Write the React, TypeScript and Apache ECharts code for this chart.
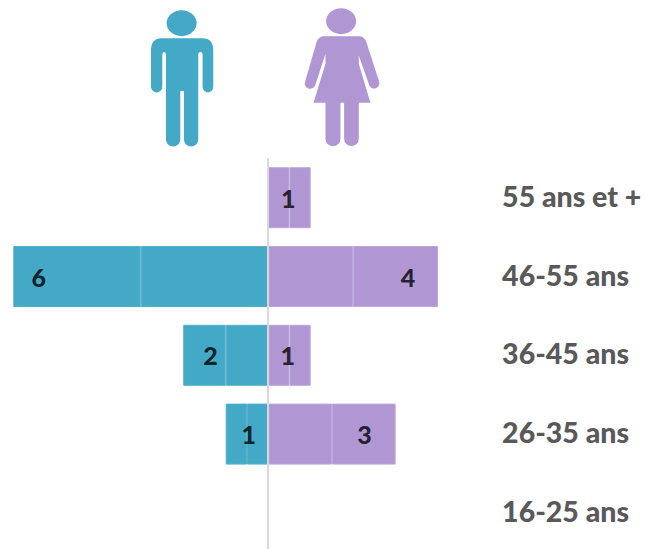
import React, { useEffect, useRef } from "react";
import * as echarts from "echarts";

const categories = ["16-25 ans", "26-35 ans", "36-45 ans", "46-55 ans", "55 ans et +"];
const menInner = [0, -0.5, -1, -3, 0];
const menOuter = [0, -0.5, -1, -3, 0];
const womenInner = [0, 1.5, 0.5, 2, 0.5];
const womenOuter = [0, 1.5, 0.5, 2, 0.5];
const menTotals = [0, 1, 2, 6, 0];
const womenTotals = [0, 3, 1, 4, 1];
const menLabelAt = [0, -0.46, -1.36, -5.4, 0];
const womenLabelAt = [0, 2.27, 0.46, 3.29, 0.47];

const TEAL = "#44A9C7";
const PURPLE = "#B097D4";
const TEAL_SEAM = "#52AFCB";
const PURPLE_SEAM = "#BBA7DB";
const TEXT = "#595959";
const FONT = "Lato, sans-serif";

const manPath =
  "M95 113H218Q250 113 250 150V258A16 18 0 0 1 218 258V163Q218 155 212 155Q205 155 205 163V420A22 23 0 0 1 162 420V272H151V420A22 23 0 0 1 108 420V163Q108 155 102 155Q97 155 97 163V258A17 18 0 0 1 63 258V150Q63 113 95 113ZM110 68A45 39 0 1 1 200 68A45 39 0 1 1 110 68Z";
const womanPath =
  "M582 107H688Q703 107 710 125L748 243A16 16 0 0 1 719 256L687 165V190L722 307H687V415A22 22 0 0 1 643 415V307H632V415A22 22 0 0 1 587 415V307H551L587 190V160L556 255A16 16 0 0 1 526 243L560 125Q567 107 582 107ZM589 62A45 39 0 1 1 679 62A45 39 0 1 1 589 62Z";

echarts.graphic.registerShape("manIcon", echarts.graphic.extendPath(manPath, {}) as any);
echarts.graphic.registerShape("womanIcon", echarts.graphic.extendPath(womanPath, {}) as any);

const segment = (name: string, data: number[], color: string, seam: string) => ({
  name,
  type: "bar",
  stack: "total",
  barWidth: 61,
  data,
  silent: true,
  itemStyle: { color, borderColor: seam, borderWidth: 1 },
});

const labelLayer = (at: number[], totals: number[]) => ({
  type: "scatter",
  symbolSize: 0,
  silent: true,
  z: 5,
  data: at
    .map((x, i) => ({ value: [x, categories[i]], total: totals[i] }))
    .filter((d) => d.total > 0),
  label: {
    show: true,
    position: "inside",
    formatter: (p: any) => String(p.data.total),
    color: "#000",
    fontFamily: FONT,
    fontWeight: 900,
    fontSize: 25,
  },
});

export default function App() {
  const ref = useRef<HTMLDivElement>(null);
  useEffect(() => {
    const chart = echarts.init(ref.current!, undefined, { renderer: "svg" });
    chart.setOption({
      animation: false,
      backgroundColor: "#fff",
      grid: { left: 13.3, top: 158.3, width: 467.3, height: 394, containLabel: false, outerBoundsMode: "none" },
      xAxis: { type: "value", min: -6, max: 5, show: false },
      yAxis: {
        type: "category",
        data: categories,
        position: "right",
        axisLine: { show: false },
        axisTick: { show: false },
        axisLabel: {
          align: "left",
          margin: 21.5,
          formatter: (v: string) => `{t|${v}}`,
          rich: {
            t: {
              padding: [0, 0, 4, 0],
              color: TEXT,
              fontFamily: FONT,
              fontWeight: 900,
              fontSize: 28.5,
            },
          },
        },
      },
      graphic: [
        { type: "manIcon", x: 130, y: 0.5, scaleX: 1 / 3, scaleY: 1 / 3, style: { fill: TEAL } },
        { type: "womanIcon", x: 130, y: 0.5, scaleX: 1 / 3, scaleY: 1 / 3, style: { fill: PURPLE } },
      ],
      series: [
        segment("Hommes 1", menInner, TEAL, TEAL_SEAM),
        segment("Hommes 2", menOuter, TEAL, TEAL_SEAM),
        segment("Femmes 1", womenInner, PURPLE, PURPLE_SEAM),
        {
          ...segment("Femmes 2", womenOuter, PURPLE, PURPLE_SEAM),
          markLine: {
            silent: true,
            symbol: "none",
            label: { show: false },
            lineStyle: { color: "#D9D9D9", width: 2, type: "solid" },
            data: [{ xAxis: 0 }],
          },
        },
        labelLayer(menLabelAt, menTotals),
        labelLayer(womenLabelAt, womenTotals),
      ],
    });
    return () => chart.dispose();
  }, []);
  return <div ref={ref} style={{ position: "fixed", left: 0, top: 0, width: 646, height: 549 }} />;
}
